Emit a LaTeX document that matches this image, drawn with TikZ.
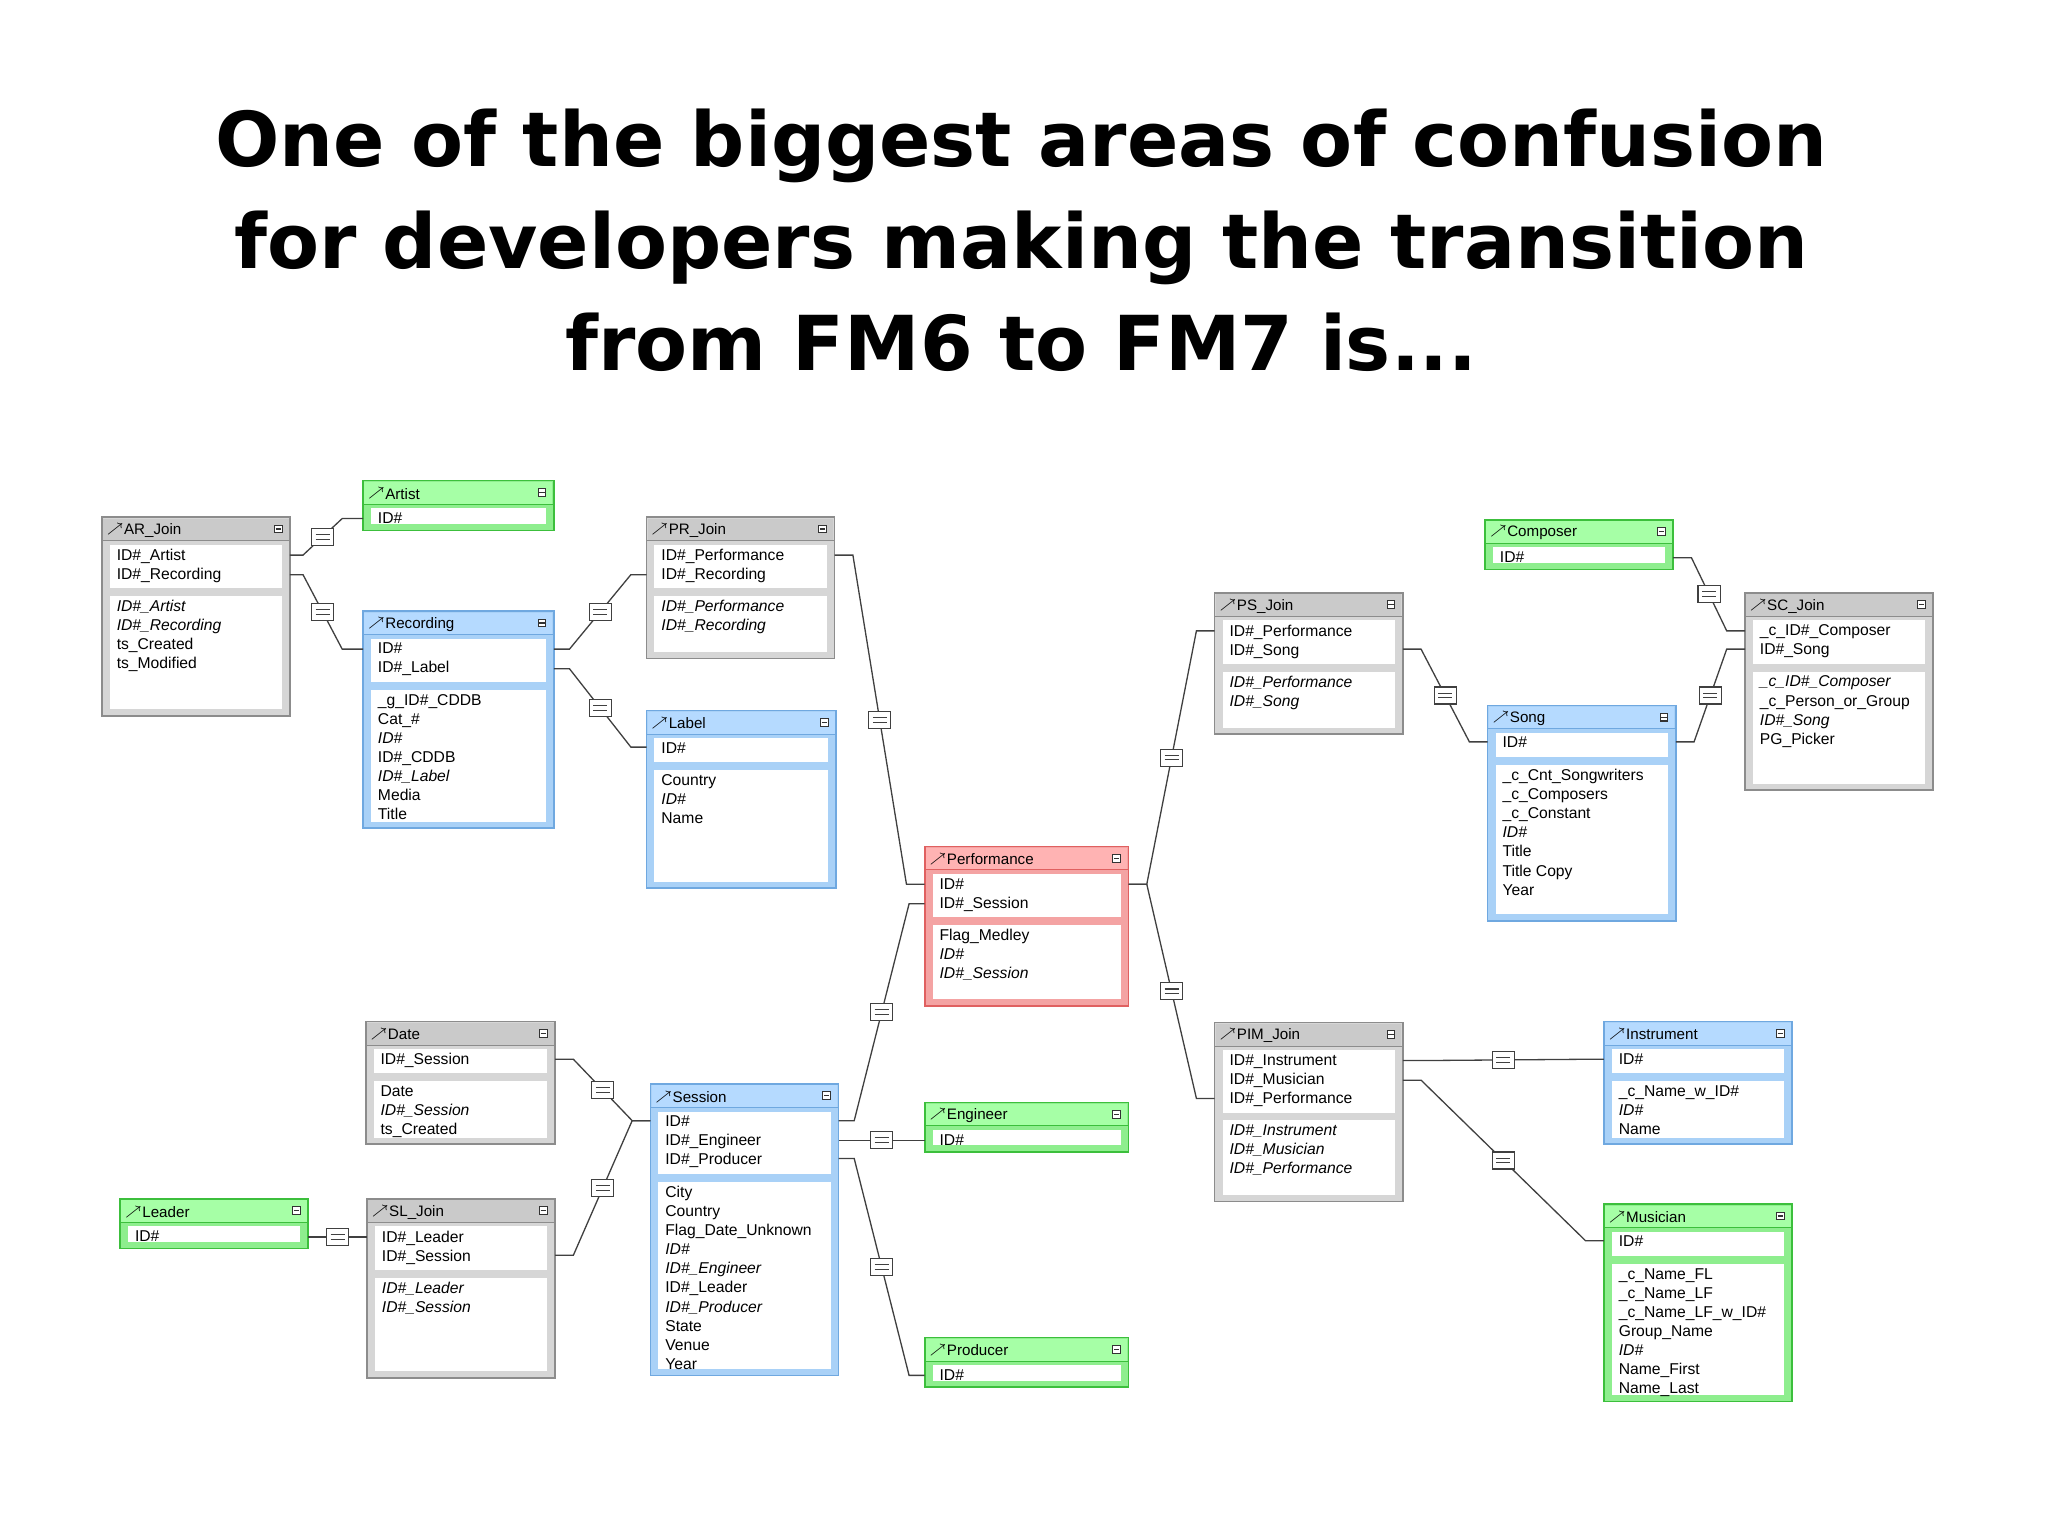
\documentclass[tikz,border=0pt]{standalone}
\usepackage{fontspec}
\setmainfont{Liberation Sans}
\newfontfamily\titlefont{DejaVu Sans}
\usetikzlibrary{calc}
\definecolor{gF}{HTML}{D6D6D6}\definecolor{gH}{HTML}{CACACA}\definecolor{gD}{HTML}{8C8C8C}
\definecolor{bF}{HTML}{A9D1F7}\definecolor{bH}{HTML}{B5DAFF}\definecolor{bD}{HTML}{6FA8E0}
\definecolor{nF}{HTML}{8EEE8E}\definecolor{nH}{HTML}{A6FFA6}\definecolor{nD}{HTML}{3CBF3C}
\definecolor{rF}{HTML}{F4A3A3}\definecolor{rH}{HTML}{FFB3B3}\definecolor{rD}{HTML}{E06060}
\tikzset{
 txt/.style={font=\fontsize{6}{7.3}\selectfont, align=left, inner sep=0pt, anchor=north west},
 link/.style={draw=black!75, line width=0.5pt},
 eq/.style={draw=black!75, fill=white, minimum width=8.5pt, minimum height=6.5pt, inner sep=0pt,
   path picture={\draw[black!75] ($(path picture bounding box.west)+(1.6pt,0.9pt)$) -- ($(path picture bounding box.east)+(-1.6pt,0.9pt)$);
                 \draw[black!75] ($(path picture bounding box.west)+(1.6pt,-0.9pt)$) -- ($(path picture bounding box.east)+(-1.6pt,-0.9pt)$);}}
}
\newcommand\tbl[9]{%
 \pgfmathsetmacro\kb{min(#3+20+#6*14.6+5,#5-5)}%
 \pgfmathsetmacro\fb{\kb+6}%
 \pgfmathtruncatemacro\hasf{\fb<#5-10}%
 \draw[draw=#7D, fill=#7F, line width=0.6pt] (#2,#3) rectangle (#4,#5);
 \fill[#7H] (#2+1,#3+1) rectangle (#4-1,#3+18);
 \draw[#7D, line width=0.3pt] (#2,#3+18) -- (#4,#3+18);
 \fill[white] (#2+6,#3+21) rectangle (#4-6,\kb);
 \ifnum\hasf=1 \fill[white] (#2+6,\fb) rectangle (#4-6,#5-5);\fi
 \node[txt, anchor=west] (#1) at (#2+3,#3+10) {\fontsize{5.8}{7}\selectfont\raisebox{0.8pt}{\fontsize{3.5}{4}\selectfont$\nearrow$}#8};
 \draw[black!80, line width=0.4pt, fill=white] (#4-12,#3+6) rectangle (#4-6,#3+12);
 \draw[black!80, line width=0.4pt] (#4-11,#3+9) -- (#4-7,#3+9);
 \node[txt] at (#2+11,#3+24) {#9};
 \def\tmpfx{#2+11}\def\tmpfy{\fb+3}\tblB}
\newcommand\tblB[1]{\node[txt] at (\tmpfx,\tmpfy) {#1};}
\newcommand\conn[4]{\draw[link] (#1) -- ++(#2,0) coordinate (s1) -- ($(#3)+(#4,0)$) coordinate (s2) -- (#3);
 \node[eq] at ($(s1)!0.5!(s2)$) {};}
\begin{document}
\begin{tikzpicture}[x=0.5pt,y=-0.5pt]
\useasboundingbox[fill=white] (0,0) rectangle (1568,1176);
\node[font=\titlefont\bfseries\fontsize{29}{39}\selectfont, align=center] (title) at (782,184)
 {One of the biggest areas of confusion\\for developers making the transition\\from FM6 to FM7 is...};

\tbl{ar}{78}{396}{222}{548}{2}{g}{AR\_Join}{ID\#\_Artist\\ID\#\_Recording}{\textit{ID\#\_Artist}\\\textit{ID\#\_Recording}\\ts\_Created\\ts\_Modified}
\tbl{artist}{278}{368}{424}{406}{1}{n}{Artist}{ID\#}{}
\tbl{rec}{278}{468}{424}{634}{2}{b}{Recording}{ID\#\\ID\#\_Label}{\_g\_ID\#\_CDDB\\Cat\_\#\\\textit{ID\#}\\ID\#\_CDDB\\\textit{ID\#\_Label}\\Media\\Title}
\tbl{pr}{495}{396}{639}{504}{2}{g}{PR\_Join}{ID\#\_Performance\\ID\#\_Recording}{\textit{ID\#\_Performance}\\\textit{ID\#\_Recording}}
\tbl{label}{495}{544}{640}{680}{1}{b}{Label}{ID\#}{Country\\\textit{ID\#}\\Name}
\tbl{perf}{708}{648}{864}{770}{2}{r}{Performance}{ID\#\\ID\#\_Session}{Flag\_Medley\\\textit{ID\#}\\\textit{ID\#\_Session}}
\tbl{ps}{930}{454}{1074}{562}{2}{g}{PS\_Join}{ID\#\_Performance\\ID\#\_Song}{\textit{ID\#\_Performance}\\\textit{ID\#\_Song}}
\tbl{comp}{1137}{398}{1281}{436}{1}{n}{Composer}{ID\#}{}
\tbl{sc}{1336}{454}{1480}{605}{2}{g}{SC\_Join}{\_c\_ID\#\_Composer\\ID\#\_Song}{\textit{\_c\_ID\#\_Composer}\\\_c\_Person\_or\_Group\\\textit{ID\#\_Song}\\PG\_Picker}
\tbl{song}{1139}{540}{1283}{705}{1}{b}{Song}{ID\#}{\_c\_Cnt\_Songwriters\\\_c\_Composers\\\_c\_Constant\\\textit{ID\#}\\Title\\Title Copy\\Year}
\tbl{date}{280}{782}{425}{876}{1}{g}{Date}{ID\#\_Session}{Date\\\textit{ID\#\_Session}\\ts\_Created}
\tbl{sess}{498}{830}{642}{1053}{3}{b}{Session}{ID\#\\ID\#\_Engineer\\ID\#\_Producer}{City\\Country\\Flag\_Date\_Unknown\\\textit{ID\#}\\\textit{ID\#\_Engineer}\\ID\#\_Leader\\\textit{ID\#\_Producer}\\State\\Venue\\Year}
\tbl{eng}{708}{844}{864}{882}{1}{n}{Engineer}{ID\#}{}
\tbl{prod}{708}{1024}{864}{1062}{1}{n}{Producer}{ID\#}{}
\tbl{lead}{92}{918}{236}{956}{1}{n}{Leader}{ID\#}{}
\tbl{sl}{281}{918}{425}{1055}{2}{g}{SL\_Join}{ID\#\_Leader\\ID\#\_Session}{\textit{ID\#\_Leader}\\\textit{ID\#\_Session}}
\tbl{pim}{930}{783}{1074}{920}{3}{g}{PIM\_Join}{ID\#\_Instrument\\ID\#\_Musician\\ID\#\_Performance}{\textit{ID\#\_Instrument}\\\textit{ID\#\_Musician}\\\textit{ID\#\_Performance}}
\tbl{inst}{1228}{782}{1372}{876}{1}{b}{Instrument}{ID\#}{\_c\_Name\_w\_ID\#\\\textit{ID\#}\\Name}
\tbl{mus}{1228}{922}{1372}{1073}{1}{n}{Musician}{ID\#}{\_c\_Name\_FL\\\_c\_Name\_LF\\\_c\_Name\_LF\_w\_ID\#\\Group\_Name\\\textit{ID\#}\\Name\_First\\Name\_Last}

\coordinate (arA) at (222,425); \coordinate (arR) at (222,440);
\coordinate (artI) at (278,397);
\coordinate (recI) at (278,497); \coordinate (recIr) at (424,497); \coordinate (recL) at (424,512);
\coordinate (prR) at (495,440); \coordinate (prP) at (639,425);
\coordinate (labI) at (495,572);
\coordinate (perIl) at (708,677); \coordinate (perS) at (708,692); \coordinate (perIr) at (864,677);
\coordinate (psP) at (930,483); \coordinate (psS) at (1074,497);
\coordinate (songI) at (1139,568); \coordinate (songIr) at (1283,568);
\coordinate (compI) at (1281,427);
\coordinate (scC) at (1336,483); \coordinate (scS) at (1336,497);
\coordinate (dateS) at (425,811);
\coordinate (sessI) at (498,858); \coordinate (sessIr) at (642,858); \coordinate (sessE) at (642,873); \coordinate (sessP) at (642,887);
\coordinate (engI) at (708,873); \coordinate (prodI) at (708,1053);
\coordinate (leadI) at (236,947); \coordinate (slL) at (281,947); \coordinate (slS) at (425,961);
\coordinate (pimI) at (1074,812); \coordinate (pimM) at (1074,827); \coordinate (pimP) at (930,841);
\coordinate (instI) at (1228,811); \coordinate (musI) at (1228,950);

\conn{arA}{10}{artI}{-16}
\conn{arR}{10}{recI}{-16}
\conn{recIr}{12}{prR}{-12}
\conn{recL}{12}{labI}{-12}
\conn{prP}{14}{perIl}{-14}
\conn{perS}{-12}{sessIr}{12}
\conn{perIr}{14}{psP}{-14}
\conn{perIr}{14}{pimP}{-14}
\conn{psS}{14}{songI}{-14}
\conn{compI}{14}{scC}{-14}
\conn{songIr}{14}{scS}{-14}
\conn{dateS}{14}{sessI}{-14}
\conn{slS}{14}{sessI}{-14}
\conn{leadI}{8}{slL}{-8}
\conn{sessE}{12}{engI}{-12}
\conn{sessP}{12}{prodI}{-12}
\conn{pimI}{14}{instI}{-14}
\conn{pimM}{14}{musI}{-14}
\end{tikzpicture}
\end{document}
